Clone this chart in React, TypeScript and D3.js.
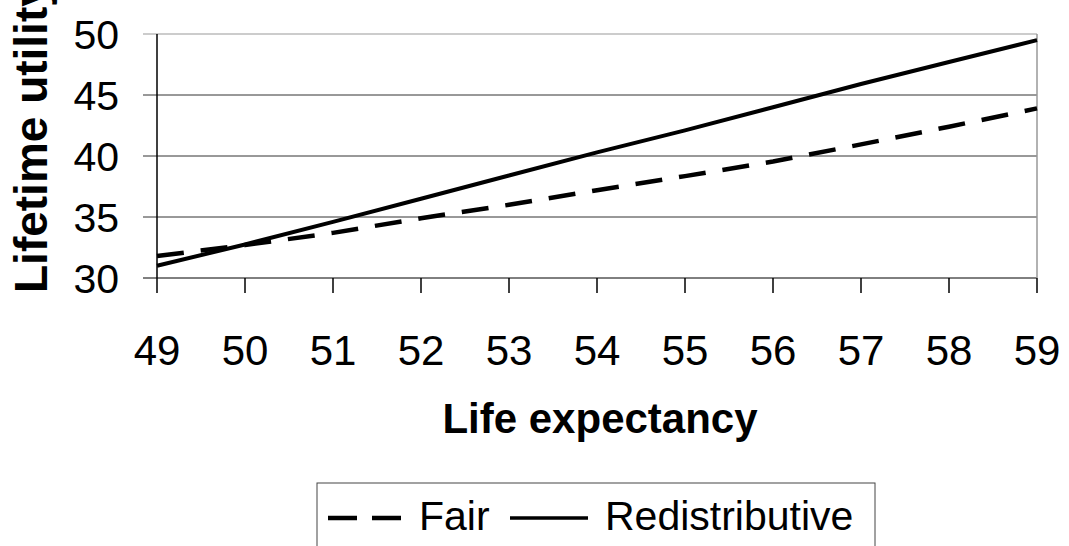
import React from "react";
import * as d3 from "d3";

// life expectancy on the x axis
const years = [49, 50, 51, 52, 53, 54, 55, 56, 57, 58, 59];
const fair = [31.8, 32.7, 33.7, 34.9, 36.0, 37.2, 38.35, 39.55, 40.95, 42.4, 43.9];
const redistributive = [31.0, 32.75, 34.6, 36.5, 38.4, 40.3, 42.1, 44.0, 45.9, 47.7, 49.5];
const yTicks = [30, 35, 40, 45, 50];

const W = 1069;
const H = 546;
const font = "Arial, 'Liberation Sans', sans-serif";

const App = () => {
  const x = d3.scaleLinear().domain([49, 59]).range([157, 1037]);
  const y = d3.scaleLinear().domain([30, 50]).range([278, 34]);

  const line = d3
    .line<number>()
    .x((d, i) => x(years[i]))
    .y((d) => y(d));

  return (
    <svg
      width={W}
      height={H}
      style={{ position: "absolute", left: 0, top: 0, background: "#fff" }}
      fontFamily={font}
    >
      {/* gridlines + y ticks */}
      {yTicks.map((t) => (
        <g key={t}>
          <line
            x1={x(49) - 14}
            x2={x(59)}
            y1={y(t)}
            y2={y(t)}
            stroke={t === 50 ? "#999" : t === 30 ? "#000" : "#333"}
            strokeWidth={1}
          />
          <text x={119} y={y(t)} dy="0.36em" textAnchor="end" fontSize={41}>
            {t}
          </text>
        </g>
      ))}
      {/* right border */}
      <line x1={x(59)} x2={x(59)} y1={y(50)} y2={y(30)} stroke="#999" strokeWidth={1.5} />
      {/* left axis */}
      <line x1={x(49)} x2={x(49)} y1={y(50)} y2={y(30)} stroke="#000" strokeWidth={1.5} />
      {/* x ticks */}
      {years.map((yr) => (
        <g key={yr}>
          <line x1={x(yr)} x2={x(yr)} y1={y(30)} y2={y(30) + 15} stroke="#000" strokeWidth={1.5} />
          <text x={x(yr)} y={365} textAnchor="middle" fontSize={42}>
            {yr}
          </text>
        </g>
      ))}

      <path d={line(redistributive) || ""} fill="none" stroke="#000" strokeWidth={4} />
      <path
        d={line(fair) || ""}
        fill="none"
        stroke="#000"
        strokeWidth={4.5}
        strokeDasharray="27 17"
      />

      {/* axis titles */}
      <text x={600} y={433} textAnchor="middle" fontSize={42} fontWeight="bold">
        Life expectancy
      </text>
      <text
        transform="translate(47,293) rotate(-90)"
        textAnchor="start"
        fontSize={46}
        fontWeight="bold"
      >
        Lifetime utility
      </text>

      {/* legend */}
      <rect x={317} y={483} width={558} height={100} fill="none" stroke="#444" strokeWidth={1} />
      <line x1={328} x2={402} y1={518} y2={518} stroke="#000" strokeWidth={4.5} strokeDasharray="29 15" />
      <text x={419} y={530} fontSize={41}>
        Fair
      </text>
      <line x1={510} x2={588} y1={518} y2={518} stroke="#000" strokeWidth={3.5} />
      <text x={605} y={530} fontSize={41}>
        Redistributive
      </text>
    </svg>
  );
};

export default App;
